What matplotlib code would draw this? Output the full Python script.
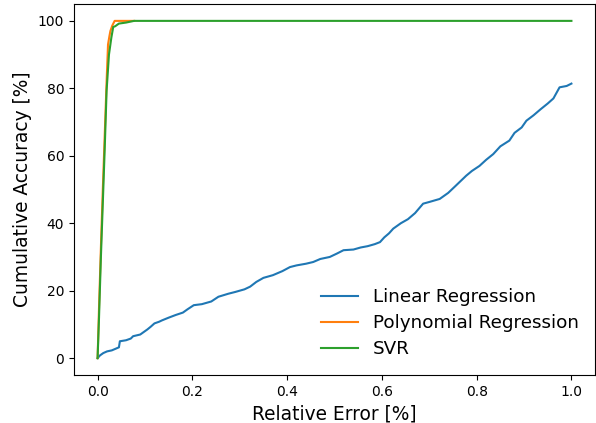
import numpy as np
import matplotlib
matplotlib.use("Agg")
import matplotlib.pyplot as plt

# relative error (x) vs cumulative accuracy (y)
linear_err = [0.0, 0.005, 0.012, 0.02, 0.03, 0.04, 0.045, 0.047, 0.06, 0.07, 0.075, 0.09,
              0.1, 0.105, 0.112, 0.12, 0.13, 0.136, 0.15, 0.165, 0.18, 0.19, 0.203, 0.22,
              0.24, 0.255, 0.276, 0.29, 0.31, 0.322, 0.335, 0.35, 0.37, 0.39, 0.406, 0.42,
              0.44, 0.455, 0.47, 0.49, 0.505, 0.519, 0.54, 0.555, 0.57, 0.585, 0.596,
              0.605, 0.615, 0.624, 0.64, 0.655, 0.67, 0.687, 0.7, 0.722, 0.74, 0.755,
              0.778, 0.79, 0.806, 0.82, 0.835, 0.85, 0.869, 0.88, 0.895, 0.905, 0.92,
              0.935, 0.95, 0.962, 0.975, 0.99, 1.0]
linear_acc = [0.0, 0.8, 1.5, 2.0, 2.3, 2.9, 3.2, 5.0, 5.3, 5.8, 6.5, 7.0,
              8.0, 8.5, 9.3, 10.3, 10.8, 11.2, 12.0, 12.8, 13.5, 14.5, 15.7, 16.0,
              16.8, 18.2, 19.1, 19.6, 20.4, 21.2, 22.6, 23.8, 24.6, 25.8, 27.0, 27.5,
              28.0, 28.5, 29.4, 30.0, 31.0, 32.0, 32.2, 32.8, 33.2, 33.8, 34.4,
              35.8, 37.0, 38.4, 40.0, 41.2, 43.0, 45.8, 46.3, 47.2, 49.0, 51.0,
              54.1, 55.5, 57.0, 58.8, 60.5, 62.8, 64.5, 66.8, 68.4, 70.4, 72.0,
              73.8, 75.5, 77.0, 80.3, 80.7, 81.4]

poly_err = [0.0, 0.003, 0.007, 0.011, 0.015, 0.019, 0.022, 0.025, 0.027, 0.031, 0.036, 0.05, 0.077]
poly_acc = [0.0, 15.0, 33.0, 50.0, 66.0, 82.0, 93.0, 95.5, 97.0, 98.6, 100.0, 100.0, 100.0]

svr_err = [0.0, 0.003, 0.007, 0.011, 0.015, 0.019, 0.024, 0.029, 0.033, 0.037, 0.045, 0.06, 0.077, 1.0]
svr_acc = [0.0, 12.0, 30.0, 46.0, 62.0, 79.3, 90.0, 95.0, 98.2, 98.4, 99.2, 99.5, 100.0, 100.0]

fig = plt.figure(figsize=(5.96, 4.23), dpi=100)
ax = fig.add_axes([0.124, 0.1135, 0.8745, 0.877])

ax.plot(linear_err, linear_acc, label="Linear Regression")
ax.plot(poly_err, poly_acc, label="Polynomial Regression")
ax.plot(svr_err, svr_acc, label="SVR")

ax.set_xlabel("Relative Error [%]", fontsize=13.4)
ax.set_ylabel("Cumulative Accuracy [%]", fontsize=13.4)
ax.set_xticks(np.arange(0, 1.01, 0.2))
ax.set_yticks(np.arange(0, 101, 20))
ax.legend(loc="lower right", frameon=False, fontsize=13.2, labelspacing=0.45)

fig.savefig("out.png", dpi=100)
